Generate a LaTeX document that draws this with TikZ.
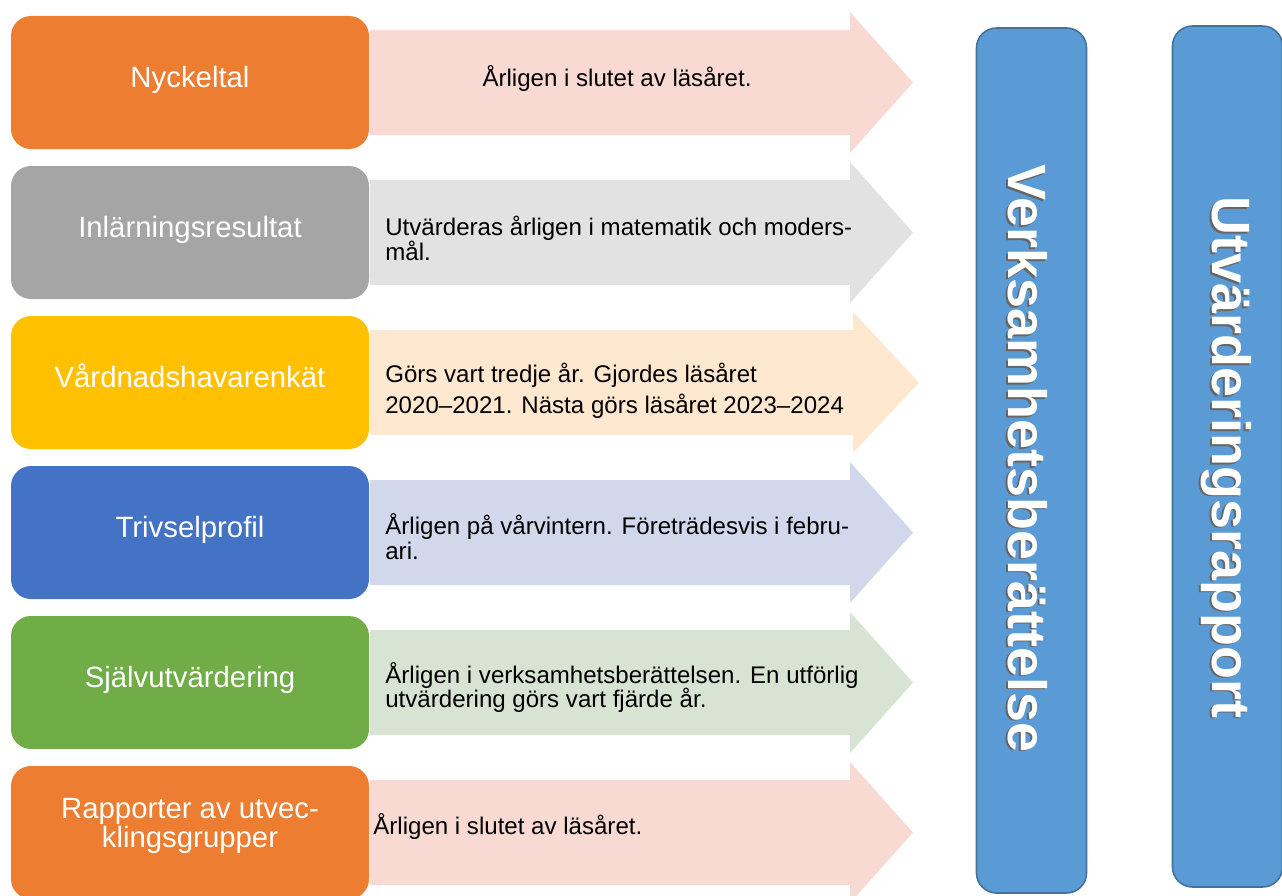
\documentclass[tikz,border=0pt]{standalone}
\usepackage{fontspec}
\setmainfont{Liberation Sans}

\definecolor{faltOrange}{HTML}{ED7D31}
\definecolor{faltGra}{HTML}{A5A5A5}
\definecolor{faltGul}{HTML}{FFC000}
\definecolor{faltBla}{HTML}{4472C4}
\definecolor{faltGron}{HTML}{70AD47}
\definecolor{pilRosa}{HTML}{F8DAD2}
\definecolor{pilGra}{HTML}{E2E2E2}
\definecolor{pilGul}{HTML}{FFE7D0}
\definecolor{pilBla}{HTML}{D2D8EB}
\definecolor{pilGron}{HTML}{D8E4D3}
\definecolor{stapelBla}{HTML}{5B9BD5}
\definecolor{stapelKant}{HTML}{41719C}

\begin{document}
\begin{tikzpicture}
		\def\rowsep{3}
		\tikzstyle{faltBas}=[rounded corners=0.4cm, minimum width=7.16cm, minimum height=2.66cm, text=white, align=center, font=\fontsize{16.7}{17}\selectfont]
		\tikzstyle{falt}=[faltBas, text height=13pt, text depth=7pt]
		\tikzstyle{pilText}=[anchor=west, align=left, inner sep=0pt, font=\fontsize{13.7}{14.2}\selectfont]
		\tikzstyle{stapel}=[rounded corners=0.4cm, fill=stapelBla, draw=stapelKant, line width=0.9pt, minimum width=2.2cm]
		\tikzstyle{stapelText}=[rotate=-90, text height=22pt, text depth=0pt, inner sep=0pt, font=\bfseries\fontsize{30.7}{31}\selectfont]
		
		\useasboundingbox (0,0) rectangle (25.64,-17.9);
		
		\foreach \i/\c/\hx/\tx in {1/pilRosa/17.0/18.26, 2/pilGra/17.0/18.26, 3/pilGul/17.06/18.38, 4/pilBla/17.0/18.26, 5/pilGron/17.0/18.26, 6/pilRosa/17.0/18.26}
		{
			\pgfmathsetmacro\y{-1.65-\rowsep*(\i-1)}
			\fill[\c] (7.4,\y+1.05) -- (\hx,\y+1.05) -- (\hx,\y+1.41) -- (\tx,\y) -- (\hx,\y-1.41) -- (\hx,\y-1.05) -- (7.4,\y-1.05) -- cycle;
		}
		
		\node[falt, fill=faltOrange](nyckeltal) at (3.8,-1.65){Nyckeltal};
		\node[falt, fill=faltGra](inlarning) at (3.8,-4.65){Inlärningsresultat};
		\node[falt, fill=faltGul](vardnad) at (3.8,-7.65){Vårdnadshavarenkät};
		\node[falt, fill=faltBla](trivsel) at (3.8,-10.65){Trivselprofil};
		\node[falt, fill=faltGron](sjalv) at (3.8,-13.65){Självutvärdering};
		\node[faltBas, fill=faltOrange](rapporter) at (3.8,-16.65){Rapporter av utvec-\\klingsgrupper\\[-6pt]};
		
		\node[pilText, anchor=center](txt-1) at (12.34,-1.56){Årligen i slutet av läsåret.};
		\node[pilText](txt-2) at (7.7,-4.76){Utvärderas årligen i matematik och moders-\\mål.};
		\node[pilText, font=\fontsize{13.7}{17.6}\selectfont](txt-3) at (7.7,-7.82){Görs vart tredje år. Gjordes läsåret\\2020–2021. Nästa görs läsåret 2023–2024};
		\node[pilText](txt-4) at (7.7,-10.74){Årligen på vårvintern. Företrädesvis i febru-\\ari.};
		\node[pilText](txt-5) at (7.7,-13.75){Årligen i verksamhetsberättelsen. En utförlig\\utvärdering görs vart fjärde år.};
		\node[pilText](txt-6) at (7.46,-16.52){Årligen i slutet av läsåret.};
		
		\node[stapel, minimum height=17.3cm](verk) at (20.63,-9.21){};
		\node[stapel, minimum height=17.22cm](utv) at (24.55,-9.13){};
		
		\node[stapelText, text=black!60](verk-skugga) at (20.51,-9.2){Verksamhetsberättelse};
		\node[stapelText, text=white](verk-text) at (20.55,-9.17){Verksamhetsberättelse};
		\node[stapelText, text=black!60](utv-skugga) at (24.59,-9.18){Utvärderingsrapport};
		\node[stapelText, text=white](utv-text) at (24.63,-9.15){Utvärderingsrapport};
\end{tikzpicture}
\end{document}
